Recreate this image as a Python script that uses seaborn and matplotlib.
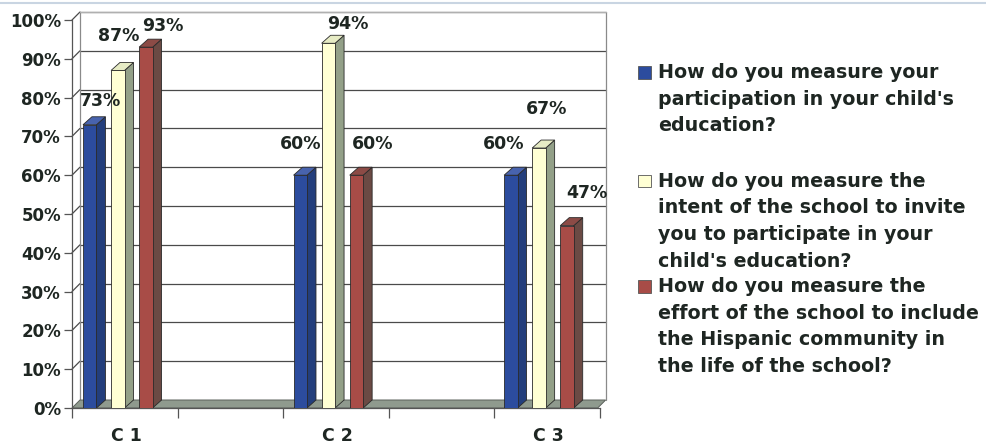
import matplotlib
matplotlib.use("Agg")
import matplotlib.pyplot as plt
from matplotlib.patches import Polygon, Rectangle
from matplotlib.lines import Line2D
from matplotlib.transforms import ScaledTranslation
import seaborn as sns
import pandas as pd

# --- data -------------------------------------------------------------
categories = ["C 1", "C 2", "C 3"]
participation = [73, 60, 60]
intent = [87, 94, 67]
effort = [93, 60, 47]
series_labels = [
    "How do you measure your\nparticipation in your child's\neducation?",
    "How do you measure the\nintent of the school to invite\nyou to participate in your\nchild's education?",
    "How do you measure the\neffort of the school to include\nthe Hispanic community in\nthe life of the school?",
]
y_ticks = [0, 10, 20, 30, 40, 50, 60, 70, 80, 90, 100]

# --- styling ----------------------------------------------------------
front_colors = ["#2C4C9E", "#FFFFD4", "#A84C47"]
side_colors = ["#233E7C", "#93A088", "#6B4A44"]
top_colors = ["#4863AE", "#E6EBC4", "#8C4B46"]
text_color = "#1E2622"
edge = "#2A2A2A"
# value-label placement (pixels): horizontal nudge and gap above each bar,
# rows follow the series, columns follow the categories
label_dx = [[6, -4.5, -11.5], [-4, 14.5, 3.5], [12.5, 11.5, 15.5]]
label_gap = [[7, 14, 14], [17, 2, 22], [4.5, 14, 16]]

sns.set_theme(style="white")
plt.rcParams["font.family"] = ["DejaVu Sans"]

W, H = 986, 447
fig = plt.figure(figsize=(W / 100, H / 100), dpi=100)
fig.patch.set_facecolor("white")

# front plane of the plot area in pixels
ax_l, ax_r, ax_b, ax_t = 72, 600, 408, 20
ax = fig.add_axes([ax_l / W, (H - ax_b) / H, (ax_r - ax_l) / W, (ax_b - ax_t) / H])
ax.set_facecolor("none")

df = pd.DataFrame({
    "category": categories * 3,
    "value": participation + intent + effort,
    "series": [s for s in series_labels for _ in categories],
})

sns.barplot(data=df, x="category", y="value", hue="series",
            hue_order=series_labels, order=categories,
            palette=front_colors, saturation=1, width=0.4, gap=0.52,
            edgecolor=edge, linewidth=0.6, legend=False, ax=ax, zorder=5)
bars = sorted([p for p in ax.patches if isinstance(p, Rectangle) and p.get_height() > 0],
              key=lambda p: p.get_x())

ax.set_xlim(-0.2175, 2.279)
ax.set_ylim(0, 100)

# pixel -> data conversion for the depth offsets
px_x = (ax.get_xlim()[1] - ax.get_xlim()[0]) / (ax_r - ax_l)
px_y = 100 / (ax_b - ax_t)
wall_dx, wall_dy = 8 * px_x, 8 * px_y
bar_dx, bar_dy = 9 * px_x, 8 * px_y
x0, x1 = ax.get_xlim()

# back wall: frame and gridlines shifted into depth
for v in y_ticks[1:]:
    ax.add_line(Line2D([x0 + wall_dx, x1 + wall_dx], [v + wall_dy, v + wall_dy],
                       color="#4A4A4A", lw=0.9, zorder=1, clip_on=False))
    ax.add_line(Line2D([x0, x0 + wall_dx], [v, v + wall_dy],
                       color="#4A4A4A", lw=0.9, zorder=1, clip_on=False))
ax.add_line(Line2D([x0 + wall_dx, x0 + wall_dx], [wall_dy, 100 + wall_dy],
                   color="#8A8A8A", lw=0.9, zorder=1, clip_on=False))
ax.add_line(Line2D([x1 + wall_dx, x1 + wall_dx], [wall_dy, 100 + wall_dy],
                   color="#8A8A8A", lw=0.9, zorder=1, clip_on=False))
ax.add_line(Line2D([x0 + wall_dx, x1 + wall_dx], [100 + wall_dy, 100 + wall_dy],
                   color="#B0B0B0", lw=0.9, zorder=1, clip_on=False))

# floor
ax.add_patch(Polygon([(x0, 0), (x1, 0), (x1 + wall_dx, wall_dy), (x0 + wall_dx, wall_dy)],
                     closed=True, facecolor="#8F9A8E", edgecolor="#5A5F5A",
                     lw=0.7, zorder=2, clip_on=False))

# give each seaborn bar a side and a top face, plus its value label
for k, p in enumerate(bars):
    cat, idx = divmod(k, 3)
    bx, bw, bh = p.get_x(), p.get_width(), p.get_height()
    ax.add_patch(Polygon([(bx + bw, 0), (bx + bw + bar_dx, bar_dy),
                          (bx + bw + bar_dx, bh + bar_dy), (bx + bw, bh)],
                         closed=True, facecolor=side_colors[idx], edgecolor=edge, lw=0.6, zorder=4))
    ax.add_patch(Polygon([(bx, bh), (bx + bw, bh), (bx + bw + bar_dx, bh + bar_dy),
                          (bx + bar_dx, bh + bar_dy)],
                         closed=True, facecolor=top_colors[idx], edgecolor=edge, lw=0.6, zorder=4))
    ax.annotate(f"{bh:.0f}%", xy=(bx + (bw + bar_dx) / 2, bh + bar_dy),
                xytext=(label_dx[idx][cat] * 0.72, label_gap[idx][cat] * 0.72),
                textcoords="offset points", ha="center", va="bottom",
                fontsize=12.5, fontweight="bold", color=text_color, zorder=6,
                annotation_clip=False)

# axes
for s in ["top", "right"]:
    ax.spines[s].set_visible(False)
for s in ["left", "bottom"]:
    ax.spines[s].set_color("#555555")
    ax.spines[s].set_linewidth(0.9)
    ax.spines[s].set_zorder(3)

ax.set_yticks(y_ticks)
ax.set_yticklabels([f"{v}%" for v in y_ticks])
ax.tick_params(axis="y", left=True, length=6, width=0.9, color="#555555",
               pad=2, labelsize=12, labelcolor=text_color)
for lbl in ax.get_yticklabels():
    lbl.set_fontweight("bold")

ax.set_xticks(range(len(categories)))
ax.set_xticklabels(categories)
ax.tick_params(axis="x", which="major", bottom=False, length=0, pad=14,
               labelsize=12.5, labelcolor=text_color)
for lbl in ax.get_xticklabels():
    lbl.set_fontweight("bold")
    lbl.set_transform(lbl.get_transform() + ScaledTranslation(9 / 100, 0, fig.dpi_scale_trans))
ax.set_xticks([x0 + 0.5 * k * 1.003 for k in range(6)], minor=True)
ax.tick_params(axis="x", which="minor", bottom=True, length=7, width=0.9, color="#555555")
ax.set_xlabel("")
ax.set_ylabel("")

# faint rule along the top edge
fig.add_artist(Line2D([0, 1], [1 - 3 / H, 1 - 3 / H], color="#C9D5E2", lw=1.5,
                      transform=fig.transFigure))

# legend drawn as stacked entries with the key beside the first line
entry_baselines = [78, 186.5, 292]
line_step = 26.7
for i, label in enumerate(series_labels):
    base = entry_baselines[i]
    fig.add_artist(Rectangle((638 / W, 1 - (base + 0.5) / H), 13 / W, 12.5 / H,
                             transform=fig.transFigure, facecolor=front_colors[i],
                             edgecolor="#555555", lw=0.6))
    for j, line in enumerate(label.split("\n")):
        fig.text(658 / W, 1 - (base + j * line_step) / H, line, ha="left", va="baseline",
                 fontsize=13.7, fontweight="bold", color=text_color)

fig.savefig("out.png", dpi=100)
